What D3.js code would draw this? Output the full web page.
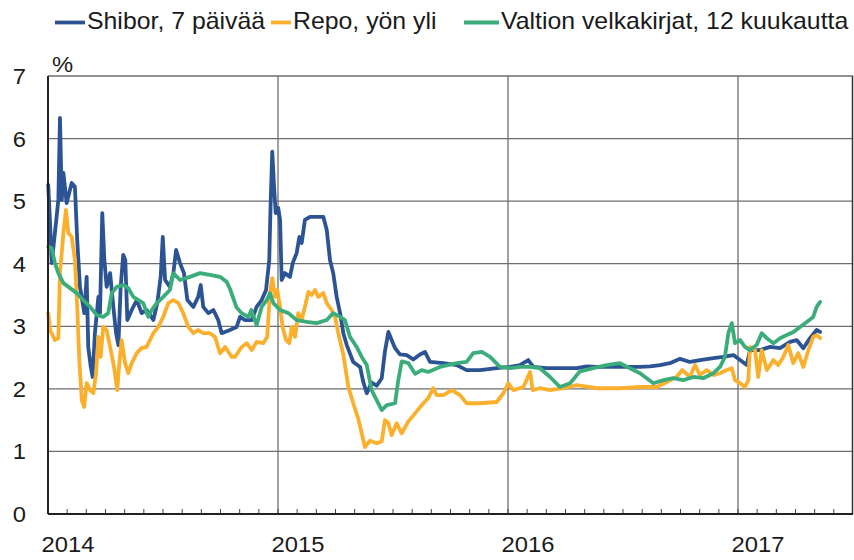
<!DOCTYPE html>
<html><head><meta charset="utf-8">
<script src="https://cdn.jsdelivr.net/npm/d3@7"></script>
<style>body{margin:0;background:#fff}svg{display:block}text{font-family:"Liberation Sans",Arial,sans-serif;fill:#1a1a1a}</style>
</head><body><svg id="c" width="854" height="560"></svg>
<script>
// ---- data ----
const startYear = 2014;               // time values below are years elapsed since 1 Jan 2014
const yearLabels = ["2014", "2015", "2016", "2017"];
const yTickValues = [0, 1, 2, 3, 4, 5, 6, 7];
const seriesNames = ["Shibor, 7 päivää", "Repo, yön yli", "Valtion velkakirjat, 12 kuukautta"];
const seriesColors = ["#2c5494", "#fbb02d", "#3bad7b"];

const shiborT = [0.001,0.009,0.016,0.030,0.045,0.052,0.060,0.067,0.081,0.103,0.117,0.127,0.139,0.158,0.168,0.175,0.186,0.194,0.204,0.219,0.226,0.236,0.245,0.255,0.270,0.284,0.296,0.306,0.316,0.327,0.336,0.345,0.364,0.386,0.407,0.429,0.458,0.475,0.490,0.499,0.509,0.530,0.545,0.557,0.574,0.591,0.606,0.632,0.653,0.664,0.675,0.697,0.719,0.740,0.755,0.791,0.820,0.835,0.857,0.886,0.907,0.929,0.948,0.962,0.968,0.975,0.983,0.990,1.001,1.009,1.016,1.030,1.052,1.064,1.081,1.093,1.103,1.117,1.139,1.168,1.197,1.212,1.226,1.240,1.255,1.270,1.284,1.299,1.327,1.357,1.370,1.386,1.407,1.429,1.451,1.465,1.480,1.494,1.509,1.530,1.560,1.588,1.617,1.639,1.661,1.719,1.777,1.820,1.878,1.951,2.009,2.052,2.088,2.110,2.168,2.240,2.299,2.342,2.386,2.473,2.574,2.617,2.661,2.704,2.748,2.791,2.835,2.893,2.935,2.980,3.009,3.038,3.052,3.096,3.139,3.183,3.226,3.255,3.284,3.313,3.342,3.357];
const shiborV = [5.26,4.65,4.01,4.49,5.02,6.33,5.02,5.45,4.97,5.29,5.23,4.38,3.63,3.21,3.79,2.67,2.35,2.19,2.89,3.47,3.21,4.81,4.06,3.63,3.85,3.31,2.89,2.70,3.63,4.14,4.06,3.10,3.26,3.42,3.21,3.26,3.10,3.37,3.79,4.43,3.74,3.63,3.85,4.22,4.01,3.85,3.42,3.31,3.47,3.66,3.31,3.21,3.26,3.10,2.89,2.94,2.99,3.15,3.10,3.10,3.31,3.42,3.58,4.06,4.97,5.79,5.23,4.81,4.89,4.70,3.74,3.85,3.79,4.01,4.17,4.43,4.33,4.70,4.75,4.75,4.75,4.54,4.06,3.85,3.47,3.21,2.89,2.70,2.43,2.35,2.12,1.93,2.10,2.05,2.17,2.60,2.91,2.78,2.65,2.55,2.54,2.47,2.55,2.59,2.43,2.41,2.38,2.30,2.30,2.33,2.35,2.38,2.46,2.35,2.33,2.33,2.33,2.36,2.35,2.35,2.35,2.36,2.38,2.41,2.48,2.43,2.46,2.49,2.51,2.54,2.46,2.38,2.62,2.62,2.67,2.65,2.75,2.78,2.65,2.81,2.94,2.91];

const repoT = [0.001,0.009,0.030,0.045,0.052,0.067,0.078,0.088,0.103,0.117,0.127,0.136,0.147,0.157,0.168,0.183,0.197,0.209,0.219,0.229,0.240,0.255,0.270,0.287,0.301,0.310,0.320,0.335,0.349,0.364,0.386,0.407,0.429,0.458,0.480,0.501,0.523,0.545,0.567,0.588,0.610,0.632,0.653,0.675,0.704,0.726,0.748,0.770,0.799,0.813,0.842,0.864,0.886,0.907,0.936,0.953,0.965,0.975,0.987,0.997,1.009,1.020,1.035,1.049,1.060,1.074,1.088,1.103,1.117,1.132,1.146,1.161,1.175,1.197,1.212,1.233,1.248,1.262,1.284,1.306,1.327,1.349,1.364,1.378,1.400,1.429,1.451,1.465,1.480,1.494,1.516,1.538,1.567,1.603,1.632,1.653,1.675,1.690,1.719,1.755,1.791,1.820,1.878,1.951,1.980,2.001,2.023,2.067,2.096,2.107,2.139,2.183,2.240,2.299,2.349,2.386,2.487,2.574,2.647,2.690,2.733,2.758,2.791,2.813,2.835,2.864,2.893,2.922,2.951,2.973,2.987,3.009,3.030,3.045,3.052,3.074,3.088,3.103,3.125,3.154,3.175,3.197,3.219,3.240,3.262,3.284,3.306,3.327,3.342,3.357];
const repoV = [3.21,2.94,2.78,2.81,3.85,4.49,4.86,4.49,4.43,4.06,3.31,2.46,1.82,1.71,2.09,1.98,1.93,2.25,2.83,2.51,2.99,2.94,2.67,2.35,1.98,2.41,2.78,2.41,2.25,2.41,2.57,2.65,2.67,2.89,2.99,3.15,3.37,3.42,3.37,3.21,2.99,2.89,2.94,2.89,2.89,2.83,2.57,2.67,2.51,2.51,2.67,2.73,2.62,2.75,2.73,2.83,3.53,3.77,3.47,3.58,3.31,2.99,2.78,2.73,2.99,2.83,3.21,3.10,3.31,3.55,3.50,3.58,3.47,3.53,3.37,3.26,3.15,2.89,2.55,2.03,1.77,1.52,1.29,1.07,1.17,1.13,1.16,1.50,1.45,1.26,1.45,1.29,1.48,1.64,1.77,1.85,2.01,1.90,1.90,1.98,1.90,1.77,1.77,1.79,1.93,2.09,1.98,2.03,2.27,1.98,2.01,1.98,2.01,2.06,2.03,2.01,2.01,2.03,2.03,2.11,2.19,2.30,2.19,2.38,2.22,2.30,2.22,2.25,2.30,2.33,2.14,2.09,2.03,2.14,2.67,2.62,2.19,2.62,2.30,2.46,2.38,2.51,2.70,2.41,2.57,2.35,2.62,2.83,2.86,2.81];

const bondT = [0.001,0.016,0.030,0.045,0.067,0.096,0.125,0.153,0.183,0.212,0.240,0.262,0.277,0.299,0.327,0.349,0.371,0.393,0.414,0.436,0.451,0.473,0.501,0.530,0.545,0.574,0.617,0.661,0.704,0.748,0.777,0.791,0.820,0.842,0.871,0.884,0.907,0.929,0.951,0.965,0.980,1.009,1.045,1.081,1.125,1.168,1.212,1.240,1.270,1.291,1.313,1.342,1.364,1.386,1.407,1.429,1.451,1.473,1.509,1.523,1.538,1.567,1.596,1.625,1.653,1.704,1.777,1.820,1.849,1.886,1.922,1.965,2.009,2.052,2.096,2.139,2.183,2.226,2.270,2.313,2.371,2.429,2.487,2.530,2.574,2.603,2.632,2.676,2.719,2.762,2.806,2.849,2.893,2.922,2.943,2.958,2.973,2.987,3.009,3.030,3.052,3.081,3.103,3.125,3.154,3.183,3.212,3.241,3.270,3.299,3.327,3.342,3.357];
const bondV = [4.27,4.25,4.01,3.85,3.69,3.61,3.53,3.42,3.31,3.18,3.15,3.21,3.53,3.63,3.66,3.61,3.47,3.42,3.37,3.15,3.26,3.37,3.47,3.58,3.85,3.74,3.79,3.85,3.82,3.79,3.71,3.60,3.30,3.21,3.15,3.26,3.02,3.31,3.42,3.53,3.37,3.26,3.21,3.10,3.07,3.05,3.10,3.21,3.15,3.10,2.83,2.67,2.51,2.38,1.98,1.82,1.66,1.74,1.77,2.14,2.44,2.41,2.24,2.30,2.27,2.35,2.41,2.43,2.57,2.59,2.51,2.35,2.33,2.35,2.35,2.33,2.19,2.03,2.09,2.28,2.33,2.38,2.41,2.33,2.25,2.17,2.09,2.14,2.17,2.14,2.19,2.17,2.25,2.35,2.51,2.89,3.05,2.73,2.78,2.67,2.62,2.70,2.89,2.81,2.73,2.81,2.86,2.91,2.99,3.07,3.15,3.31,3.39];

// ---- chart ----
const svg = d3.select("#c");
const W = 854, H = 560;
const m = {left: 48, right: 1, top: 76, bottom: 46};
const x = d3.scaleLinear().domain([startYear, startYear + 3.5]).range([m.left, W - m.right]);
const y = d3.scaleLinear().domain([0, 7]).range([H - m.bottom, m.top]);
const sx = 1.08; // horizontal text stretch seen in the reference

function txt(g, s, px, py, anchor, size) {
  g.append("text").attr("transform", `translate(${px},${py}) scale(${sx},1)`)
    .attr("text-anchor", anchor || "start").attr("font-size", size || 22).text(s);
}

// horizontal grid
svg.append("g").selectAll("line").data(yTickValues.filter(v => v > 0)).join("line")
  .attr("x1", x.range()[0]).attr("x2", x.range()[1])
  .attr("y1", d => y(d)).attr("y2", d => y(d))
  .attr("stroke", "#6e6e6e").attr("stroke-width", 1.3);
// vertical year grid
const yearVals = yearLabels.map(Number);
svg.append("g").selectAll("line").data(yearVals.filter(v => v > startYear)).join("line")
  .attr("x1", d => x(d)).attr("x2", d => x(d))
  .attr("y1", y(0)).attr("y2", y(7))
  .attr("stroke", "#6e6e6e").attr("stroke-width", 1.3);
// right border
svg.append("line").attr("x1", x.range()[1] - 0.5).attr("x2", x.range()[1] - 0.5)
  .attr("y1", y(0)).attr("y2", y(7)).attr("stroke", "#333").attr("stroke-width", 1.5);

// month minor ticks (inside)
const months = d3.range(1, 42).map(i => startYear + i / 12).filter(v => v < startYear + 3.5);
svg.append("g").selectAll("line").data(months).join("line")
  .attr("x1", d => x(d)).attr("x2", d => x(d))
  .attr("y1", y(0)).attr("y2", y(0) - 5)
  .attr("stroke", "#444").attr("stroke-width", 1);

// lines
const line = d3.line().x(d => x(startYear + d[0])).y(d => y(d[1])).curve(d3.curveLinear);
const series = [
  d3.zip(shiborT, shiborV),
  d3.zip(repoT, repoV),
  d3.zip(bondT, bondV)
];
svg.append("g").selectAll("path").data(series).join("path")
  .attr("d", line).attr("fill", "none")
  .attr("stroke", (d, i) => seriesColors[i]).attr("stroke-width", 3.8)
  .attr("stroke-linejoin", "round").attr("stroke-linecap", "round");

// axes lines
svg.append("line").attr("x1", x.range()[0]).attr("x2", x.range()[0])
  .attr("y1", y(0)).attr("y2", y(7)).attr("stroke", "#222").attr("stroke-width", 2);
svg.append("line").attr("x1", x.range()[0]).attr("x2", x.range()[1])
  .attr("y1", y(0)).attr("y2", y(0)).attr("stroke", "#222").attr("stroke-width", 2);

// y labels
const gy = svg.append("g");
yTickValues.forEach(v => txt(gy, String(v), 26, y(v) + 8, "end"));
txt(gy, "%", 52, 72, "start");

// x labels
const gx = svg.append("g");
yearLabels.forEach(s => txt(gx, s, x(+s) + 20, 552, "middle"));

// legend
const legendX = [55, 271, 464];
const legendLen = [30, 20, 35];
const gl = svg.append("g");
seriesNames.forEach((n, i) => {
  gl.append("line").attr("x1", legendX[i]).attr("x2", legendX[i] + legendLen[i])
    .attr("y1", 22.5).attr("y2", 22.5).attr("stroke", seriesColors[i]).attr("stroke-width", 3.8);
  txt(gl, n, legendX[i] + legendLen[i] + 2, 29, "start", 23);
});
</script></body></html>
